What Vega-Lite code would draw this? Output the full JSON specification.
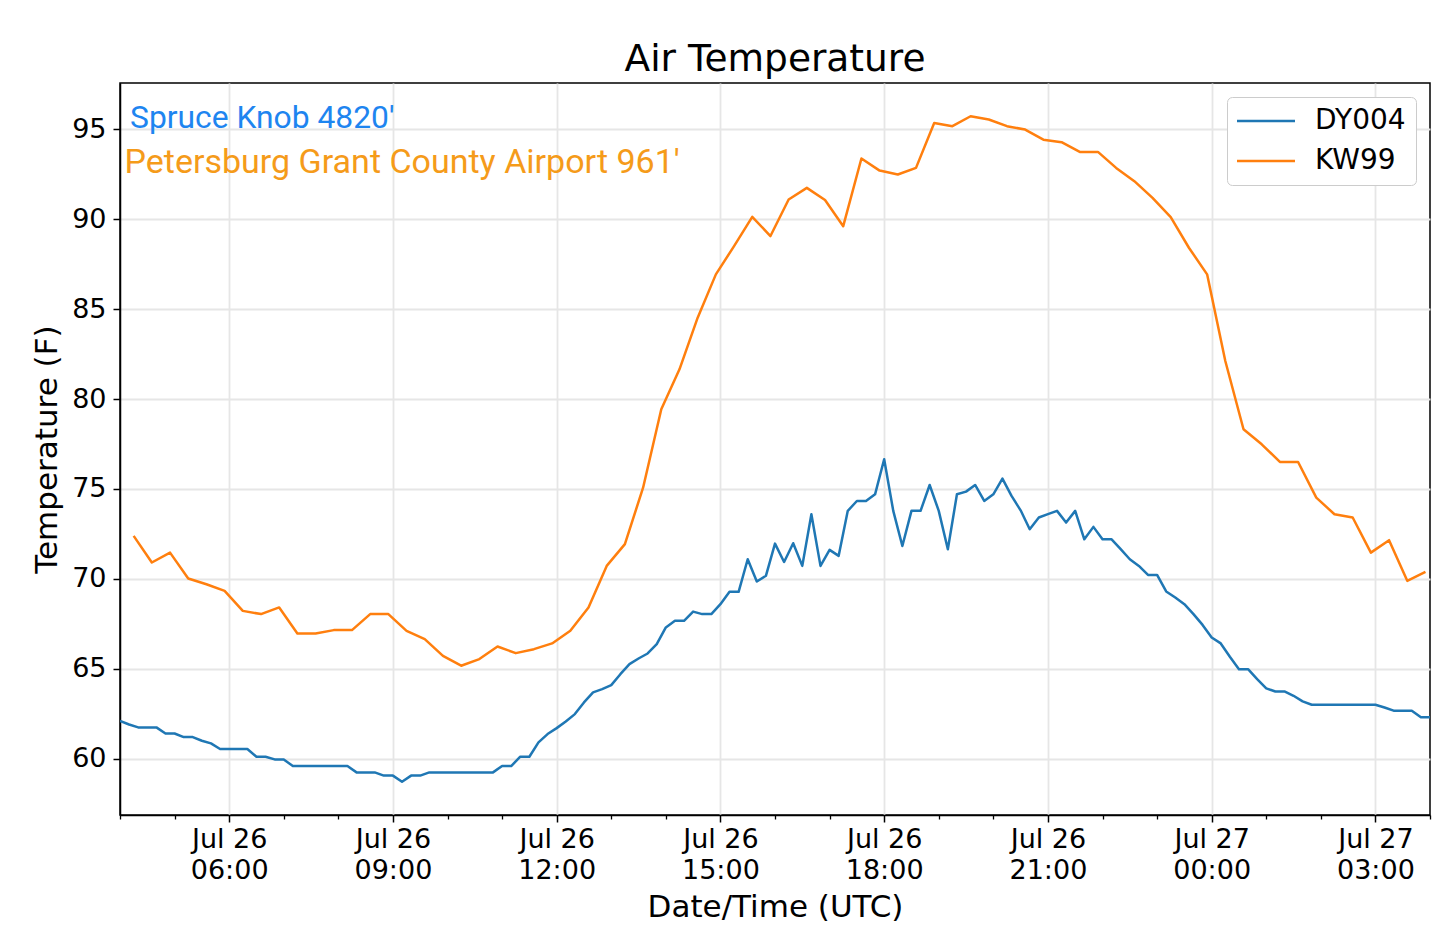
{
"$schema": "https://vega.github.io/schema/vega-lite/v6.json",
"width": 1310,
"height": 732,
"autosize": {"type": "none"},
"padding": {"left": 120, "top": 83, "right": 10, "bottom": 136},
"background": "white",
"title": {"text": "Air Temperature", "font": "DejaVu Sans", "fontSize": 37.5, "fontWeight": "normal", "color": "#000000", "anchor": "middle", "baseline": "alphabetic", "offset": -25},
"config": {"view": {"stroke": "#000000", "strokeWidth": 1.5}, "font": "DejaVu Sans",
"axisY": {"labelFont": "DejaVu Sans", "labelFontSize": 27, "labelColor": "#000000", "labelPadding": 7,
"tickSize": 7, "tickWidth": 1.5, "tickColor": "#000000",
"domainColor": "#000000", "domainWidth": 1.5,
"grid": true, "gridColor": "#e6e6e6", "gridWidth": 1.8,
"titleFont": "DejaVu Sans", "titleFontSize": 31, "titleFontWeight": "normal", "titleColor": "#000000", "titlePadding": 8}},
"datasets": {
"notes": [
{"station": "DY004", "label": "Spruce Knob 4820'", "time": "2019-07-26T04:11:00Z", "temp": 95.07},
{"station": "KW99", "label": "Petersburg Grant County Airport 961'", "time": "2019-07-26T04:05:00Z", "temp": 92.54}
],
"obs": [
{"station":"DY004","time":"2019-07-26T04:00:00Z","temp":62.1},
{"station":"DY004","time":"2019-07-26T04:10:00Z","temp":61.9},
{"station":"DY004","time":"2019-07-26T04:20:00Z","temp":61.74},
{"station":"DY004","time":"2019-07-26T04:30:00Z","temp":61.74},
{"station":"DY004","time":"2019-07-26T04:40:00Z","temp":61.74},
{"station":"DY004","time":"2019-07-26T04:50:00Z","temp":61.4},
{"station":"DY004","time":"2019-07-26T05:00:00Z","temp":61.4},
{"station":"DY004","time":"2019-07-26T05:10:00Z","temp":61.2},
{"station":"DY004","time":"2019-07-26T05:20:00Z","temp":61.2},
{"station":"DY004","time":"2019-07-26T05:30:00Z","temp":61.0},
{"station":"DY004","time":"2019-07-26T05:40:00Z","temp":60.85},
{"station":"DY004","time":"2019-07-26T05:50:00Z","temp":60.54},
{"station":"DY004","time":"2019-07-26T06:00:00Z","temp":60.54},
{"station":"DY004","time":"2019-07-26T06:10:00Z","temp":60.54},
{"station":"DY004","time":"2019-07-26T06:20:00Z","temp":60.54},
{"station":"DY004","time":"2019-07-26T06:30:00Z","temp":60.11},
{"station":"DY004","time":"2019-07-26T06:40:00Z","temp":60.11},
{"station":"DY004","time":"2019-07-26T06:50:00Z","temp":59.96},
{"station":"DY004","time":"2019-07-26T07:00:00Z","temp":59.96},
{"station":"DY004","time":"2019-07-26T07:10:00Z","temp":59.59},
{"station":"DY004","time":"2019-07-26T07:20:00Z","temp":59.59},
{"station":"DY004","time":"2019-07-26T07:30:00Z","temp":59.59},
{"station":"DY004","time":"2019-07-26T07:40:00Z","temp":59.59},
{"station":"DY004","time":"2019-07-26T07:50:00Z","temp":59.59},
{"station":"DY004","time":"2019-07-26T08:00:00Z","temp":59.59},
{"station":"DY004","time":"2019-07-26T08:10:00Z","temp":59.59},
{"station":"DY004","time":"2019-07-26T08:20:00Z","temp":59.24},
{"station":"DY004","time":"2019-07-26T08:30:00Z","temp":59.24},
{"station":"DY004","time":"2019-07-26T08:40:00Z","temp":59.24},
{"station":"DY004","time":"2019-07-26T08:50:00Z","temp":59.06},
{"station":"DY004","time":"2019-07-26T09:00:00Z","temp":59.06},
{"station":"DY004","time":"2019-07-26T09:10:00Z","temp":58.72},
{"station":"DY004","time":"2019-07-26T09:20:00Z","temp":59.06},
{"station":"DY004","time":"2019-07-26T09:30:00Z","temp":59.06},
{"station":"DY004","time":"2019-07-26T09:40:00Z","temp":59.24},
{"station":"DY004","time":"2019-07-26T09:50:00Z","temp":59.24},
{"station":"DY004","time":"2019-07-26T10:00:00Z","temp":59.24},
{"station":"DY004","time":"2019-07-26T10:10:00Z","temp":59.24},
{"station":"DY004","time":"2019-07-26T10:20:00Z","temp":59.24},
{"station":"DY004","time":"2019-07-26T10:30:00Z","temp":59.24},
{"station":"DY004","time":"2019-07-26T10:40:00Z","temp":59.24},
{"station":"DY004","time":"2019-07-26T10:50:00Z","temp":59.24},
{"station":"DY004","time":"2019-07-26T11:00:00Z","temp":59.59},
{"station":"DY004","time":"2019-07-26T11:10:00Z","temp":59.59},
{"station":"DY004","time":"2019-07-26T11:20:00Z","temp":60.11},
{"station":"DY004","time":"2019-07-26T11:30:00Z","temp":60.11},
{"station":"DY004","time":"2019-07-26T11:40:00Z","temp":60.91},
{"station":"DY004","time":"2019-07-26T11:50:00Z","temp":61.37},
{"station":"DY004","time":"2019-07-26T12:00:00Z","temp":61.7},
{"station":"DY004","time":"2019-07-26T12:10:00Z","temp":62.07},
{"station":"DY004","time":"2019-07-26T12:20:00Z","temp":62.48},
{"station":"DY004","time":"2019-07-26T12:30:00Z","temp":63.13},
{"station":"DY004","time":"2019-07-26T12:40:00Z","temp":63.69},
{"station":"DY004","time":"2019-07-26T12:50:00Z","temp":63.87},
{"station":"DY004","time":"2019-07-26T13:00:00Z","temp":64.09},
{"station":"DY004","time":"2019-07-26T13:10:00Z","temp":64.7},
{"station":"DY004","time":"2019-07-26T13:20:00Z","temp":65.26},
{"station":"DY004","time":"2019-07-26T13:30:00Z","temp":65.57},
{"station":"DY004","time":"2019-07-26T13:40:00Z","temp":65.85},
{"station":"DY004","time":"2019-07-26T13:50:00Z","temp":66.37},
{"station":"DY004","time":"2019-07-26T14:00:00Z","temp":67.3},
{"station":"DY004","time":"2019-07-26T14:10:00Z","temp":67.67},
{"station":"DY004","time":"2019-07-26T14:20:00Z","temp":67.67},
{"station":"DY004","time":"2019-07-26T14:30:00Z","temp":68.18},
{"station":"DY004","time":"2019-07-26T14:40:00Z","temp":68.04},
{"station":"DY004","time":"2019-07-26T14:50:00Z","temp":68.04},
{"station":"DY004","time":"2019-07-26T15:00:00Z","temp":68.59},
{"station":"DY004","time":"2019-07-26T15:10:00Z","temp":69.28},
{"station":"DY004","time":"2019-07-26T15:20:00Z","temp":69.28},
{"station":"DY004","time":"2019-07-26T15:30:00Z","temp":71.09},
{"station":"DY004","time":"2019-07-26T15:40:00Z","temp":69.85},
{"station":"DY004","time":"2019-07-26T15:50:00Z","temp":70.17},
{"station":"DY004","time":"2019-07-26T16:00:00Z","temp":71.96},
{"station":"DY004","time":"2019-07-26T16:10:00Z","temp":70.94},
{"station":"DY004","time":"2019-07-26T16:20:00Z","temp":71.98},
{"station":"DY004","time":"2019-07-26T16:30:00Z","temp":70.72},
{"station":"DY004","time":"2019-07-26T16:40:00Z","temp":73.59},
{"station":"DY004","time":"2019-07-26T16:50:00Z","temp":70.72},
{"station":"DY004","time":"2019-07-26T17:00:00Z","temp":71.61},
{"station":"DY004","time":"2019-07-26T17:10:00Z","temp":71.28},
{"station":"DY004","time":"2019-07-26T17:20:00Z","temp":73.78},
{"station":"DY004","time":"2019-07-26T17:30:00Z","temp":74.33},
{"station":"DY004","time":"2019-07-26T17:40:00Z","temp":74.33},
{"station":"DY004","time":"2019-07-26T17:50:00Z","temp":74.7},
{"station":"DY004","time":"2019-07-26T18:00:00Z","temp":76.65},
{"station":"DY004","time":"2019-07-26T18:10:00Z","temp":73.78},
{"station":"DY004","time":"2019-07-26T18:20:00Z","temp":71.83},
{"station":"DY004","time":"2019-07-26T18:30:00Z","temp":73.78},
{"station":"DY004","time":"2019-07-26T18:40:00Z","temp":73.78},
{"station":"DY004","time":"2019-07-26T18:50:00Z","temp":75.22},
{"station":"DY004","time":"2019-07-26T19:00:00Z","temp":73.78},
{"station":"DY004","time":"2019-07-26T19:10:00Z","temp":71.65},
{"station":"DY004","time":"2019-07-26T19:20:00Z","temp":74.7},
{"station":"DY004","time":"2019-07-26T19:30:00Z","temp":74.85},
{"station":"DY004","time":"2019-07-26T19:40:00Z","temp":75.22},
{"station":"DY004","time":"2019-07-26T19:50:00Z","temp":74.33},
{"station":"DY004","time":"2019-07-26T20:00:00Z","temp":74.7},
{"station":"DY004","time":"2019-07-26T20:10:00Z","temp":75.57},
{"station":"DY004","time":"2019-07-26T20:20:00Z","temp":74.61},
{"station":"DY004","time":"2019-07-26T20:30:00Z","temp":73.81},
{"station":"DY004","time":"2019-07-26T20:40:00Z","temp":72.76},
{"station":"DY004","time":"2019-07-26T20:50:00Z","temp":73.41},
{"station":"DY004","time":"2019-07-26T21:00:00Z","temp":73.6},
{"station":"DY004","time":"2019-07-26T21:10:00Z","temp":73.78},
{"station":"DY004","time":"2019-07-26T21:20:00Z","temp":73.13},
{"station":"DY004","time":"2019-07-26T21:30:00Z","temp":73.78},
{"station":"DY004","time":"2019-07-26T21:40:00Z","temp":72.2},
{"station":"DY004","time":"2019-07-26T21:50:00Z","temp":72.89},
{"station":"DY004","time":"2019-07-26T22:00:00Z","temp":72.2},
{"station":"DY004","time":"2019-07-26T22:10:00Z","temp":72.2},
{"station":"DY004","time":"2019-07-26T22:20:00Z","temp":71.65},
{"station":"DY004","time":"2019-07-26T22:30:00Z","temp":71.09},
{"station":"DY004","time":"2019-07-26T22:40:00Z","temp":70.72},
{"station":"DY004","time":"2019-07-26T22:50:00Z","temp":70.22},
{"station":"DY004","time":"2019-07-26T23:00:00Z","temp":70.22},
{"station":"DY004","time":"2019-07-26T23:10:00Z","temp":69.3},
{"station":"DY004","time":"2019-07-26T23:20:00Z","temp":68.96},
{"station":"DY004","time":"2019-07-26T23:30:00Z","temp":68.59},
{"station":"DY004","time":"2019-07-26T23:40:00Z","temp":68.04},
{"station":"DY004","time":"2019-07-26T23:50:00Z","temp":67.44},
{"station":"DY004","time":"2019-07-27T00:00:00Z","temp":66.74},
{"station":"DY004","time":"2019-07-27T00:10:00Z","temp":66.41},
{"station":"DY004","time":"2019-07-27T00:20:00Z","temp":65.67},
{"station":"DY004","time":"2019-07-27T00:30:00Z","temp":64.98},
{"station":"DY004","time":"2019-07-27T00:40:00Z","temp":64.98},
{"station":"DY004","time":"2019-07-27T00:50:00Z","temp":64.43},
{"station":"DY004","time":"2019-07-27T01:00:00Z","temp":63.91},
{"station":"DY004","time":"2019-07-27T01:10:00Z","temp":63.74},
{"station":"DY004","time":"2019-07-27T01:20:00Z","temp":63.74},
{"station":"DY004","time":"2019-07-27T01:30:00Z","temp":63.5},
{"station":"DY004","time":"2019-07-27T01:40:00Z","temp":63.19},
{"station":"DY004","time":"2019-07-27T01:50:00Z","temp":63.0},
{"station":"DY004","time":"2019-07-27T02:00:00Z","temp":63.0},
{"station":"DY004","time":"2019-07-27T02:10:00Z","temp":63.0},
{"station":"DY004","time":"2019-07-27T02:20:00Z","temp":63.0},
{"station":"DY004","time":"2019-07-27T02:30:00Z","temp":63.0},
{"station":"DY004","time":"2019-07-27T02:40:00Z","temp":63.0},
{"station":"DY004","time":"2019-07-27T02:50:00Z","temp":63.0},
{"station":"DY004","time":"2019-07-27T03:00:00Z","temp":63.0},
{"station":"DY004","time":"2019-07-27T03:10:00Z","temp":62.85},
{"station":"DY004","time":"2019-07-27T03:20:00Z","temp":62.67},
{"station":"DY004","time":"2019-07-27T03:30:00Z","temp":62.67},
{"station":"DY004","time":"2019-07-27T03:40:00Z","temp":62.67},
{"station":"DY004","time":"2019-07-27T03:50:00Z","temp":62.3},
{"station":"DY004","time":"2019-07-27T04:00:00Z","temp":62.3},
{"station":"KW99","time":"2019-07-26T04:15:00Z","temp":72.39},
{"station":"KW99","time":"2019-07-26T04:35:00Z","temp":70.91},
{"station":"KW99","time":"2019-07-26T04:55:00Z","temp":71.46},
{"station":"KW99","time":"2019-07-26T05:15:00Z","temp":70.02},
{"station":"KW99","time":"2019-07-26T05:35:00Z","temp":69.7},
{"station":"KW99","time":"2019-07-26T05:55:00Z","temp":69.33},
{"station":"KW99","time":"2019-07-26T06:15:00Z","temp":68.22},
{"station":"KW99","time":"2019-07-26T06:35:00Z","temp":68.04},
{"station":"KW99","time":"2019-07-26T06:55:00Z","temp":68.41},
{"station":"KW99","time":"2019-07-26T07:15:00Z","temp":66.96},
{"station":"KW99","time":"2019-07-26T07:35:00Z","temp":66.96},
{"station":"KW99","time":"2019-07-26T07:55:00Z","temp":67.15},
{"station":"KW99","time":"2019-07-26T08:15:00Z","temp":67.15},
{"station":"KW99","time":"2019-07-26T08:35:00Z","temp":68.04},
{"station":"KW99","time":"2019-07-26T08:55:00Z","temp":68.04},
{"station":"KW99","time":"2019-07-26T09:15:00Z","temp":67.11},
{"station":"KW99","time":"2019-07-26T09:35:00Z","temp":66.65},
{"station":"KW99","time":"2019-07-26T09:55:00Z","temp":65.72},
{"station":"KW99","time":"2019-07-26T10:15:00Z","temp":65.17},
{"station":"KW99","time":"2019-07-26T10:35:00Z","temp":65.54},
{"station":"KW99","time":"2019-07-26T10:55:00Z","temp":66.24},
{"station":"KW99","time":"2019-07-26T11:15:00Z","temp":65.87},
{"station":"KW99","time":"2019-07-26T11:35:00Z","temp":66.09},
{"station":"KW99","time":"2019-07-26T11:55:00Z","temp":66.41},
{"station":"KW99","time":"2019-07-26T12:15:00Z","temp":67.11},
{"station":"KW99","time":"2019-07-26T12:35:00Z","temp":68.41},
{"station":"KW99","time":"2019-07-26T12:55:00Z","temp":70.72},
{"station":"KW99","time":"2019-07-26T13:15:00Z","temp":71.93},
{"station":"KW99","time":"2019-07-26T13:35:00Z","temp":75.07},
{"station":"KW99","time":"2019-07-26T13:55:00Z","temp":79.43},
{"station":"KW99","time":"2019-07-26T14:15:00Z","temp":81.65},
{"station":"KW99","time":"2019-07-26T14:35:00Z","temp":84.52},
{"station":"KW99","time":"2019-07-26T14:55:00Z","temp":86.93},
{"station":"KW99","time":"2019-07-26T15:15:00Z","temp":88.5},
{"station":"KW99","time":"2019-07-26T15:35:00Z","temp":90.13},
{"station":"KW99","time":"2019-07-26T15:55:00Z","temp":89.06},
{"station":"KW99","time":"2019-07-26T16:15:00Z","temp":91.09},
{"station":"KW99","time":"2019-07-26T16:35:00Z","temp":91.74},
{"station":"KW99","time":"2019-07-26T16:55:00Z","temp":91.06},
{"station":"KW99","time":"2019-07-26T17:15:00Z","temp":89.61},
{"station":"KW99","time":"2019-07-26T17:35:00Z","temp":93.37},
{"station":"KW99","time":"2019-07-26T17:55:00Z","temp":92.7},
{"station":"KW99","time":"2019-07-26T18:15:00Z","temp":92.48},
{"station":"KW99","time":"2019-07-26T18:35:00Z","temp":92.85},
{"station":"KW99","time":"2019-07-26T18:55:00Z","temp":95.35},
{"station":"KW99","time":"2019-07-26T19:15:00Z","temp":95.17},
{"station":"KW99","time":"2019-07-26T19:35:00Z","temp":95.72},
{"station":"KW99","time":"2019-07-26T19:55:00Z","temp":95.54},
{"station":"KW99","time":"2019-07-26T20:15:00Z","temp":95.17},
{"station":"KW99","time":"2019-07-26T20:35:00Z","temp":94.98},
{"station":"KW99","time":"2019-07-26T20:55:00Z","temp":94.42},
{"station":"KW99","time":"2019-07-26T21:15:00Z","temp":94.28},
{"station":"KW99","time":"2019-07-26T21:35:00Z","temp":93.74},
{"station":"KW99","time":"2019-07-26T21:55:00Z","temp":93.74},
{"station":"KW99","time":"2019-07-26T22:15:00Z","temp":92.85},
{"station":"KW99","time":"2019-07-26T22:35:00Z","temp":92.11},
{"station":"KW99","time":"2019-07-26T22:55:00Z","temp":91.18},
{"station":"KW99","time":"2019-07-26T23:15:00Z","temp":90.11},
{"station":"KW99","time":"2019-07-26T23:35:00Z","temp":88.41},
{"station":"KW99","time":"2019-07-26T23:55:00Z","temp":86.93},
{"station":"KW99","time":"2019-07-27T00:15:00Z","temp":82.11},
{"station":"KW99","time":"2019-07-27T00:35:00Z","temp":78.32},
{"station":"KW99","time":"2019-07-27T00:55:00Z","temp":77.48},
{"station":"KW99","time":"2019-07-27T01:15:00Z","temp":76.5},
{"station":"KW99","time":"2019-07-27T01:35:00Z","temp":76.5},
{"station":"KW99","time":"2019-07-27T01:55:00Z","temp":74.52},
{"station":"KW99","time":"2019-07-27T02:15:00Z","temp":73.59},
{"station":"KW99","time":"2019-07-27T02:35:00Z","temp":73.41},
{"station":"KW99","time":"2019-07-27T02:55:00Z","temp":71.46},
{"station":"KW99","time":"2019-07-27T03:15:00Z","temp":72.15},
{"station":"KW99","time":"2019-07-27T03:35:00Z","temp":69.89},
{"station":"KW99","time":"2019-07-27T03:55:00Z","temp":70.39}
]
},
"resolve": {"axis": {"x": "independent"}},
"layer": [
{
"data": {"name": "obs"},
"mark": {"type": "line", "strokeWidth": 2.5, "strokeJoin": "round", "clip": true},
"encoding": {
"x": {"field": "time", "type": "temporal",
"scale": {"type": "utc", "domain": [{"year": 2019, "month": 7, "date": 26, "hours": 4, "utc": true}, {"year": 2019, "month": 7, "date": 27, "hours": 4, "utc": true}]},
"axis": {"orient": "bottom",
"values": [
{"year": 2019, "month": 7, "date": 26, "hours": 6, "utc": true},
{"year": 2019, "month": 7, "date": 26, "hours": 9, "utc": true},
{"year": 2019, "month": 7, "date": 26, "hours": 12, "utc": true},
{"year": 2019, "month": 7, "date": 26, "hours": 15, "utc": true},
{"year": 2019, "month": 7, "date": 26, "hours": 18, "utc": true},
{"year": 2019, "month": 7, "date": 26, "hours": 21, "utc": true},
{"year": 2019, "month": 7, "date": 27, "hours": 0, "utc": true},
{"year": 2019, "month": 7, "date": 27, "hours": 3, "utc": true}
],
"labelExpr": "[utcFormat(datum.value, '%b %d'), utcFormat(datum.value, '%H:%M')]",
"labelFont": "DejaVu Sans", "labelFontSize": 27, "labelColor": "#000000", "labelLineHeight": 31,
"labelPadding": 4, "labelFlush": false, "labelOverlap": false, "labelAlign": "center",
"tickSize": 7, "tickWidth": 1.5, "tickColor": "#000000",
"domainColor": "#000000", "domainWidth": 1.5,
"grid": true, "gridColor": "#e6e6e6", "gridWidth": 1.8,
"title": "Date/Time (UTC)", "titleFont": "DejaVu Sans", "titleFontSize": 31, "titleFontWeight": "normal", "titleColor": "#000000", "titlePadding": 9}
},
"y": {"field": "temp", "type": "quantitative",
"scale": {"domain": [56.87, 97.57], "nice": false, "zero": false},
"axis": {"values": [60, 65, 70, 75, 80, 85, 90, 95], "title": "Temperature (F)"}
},
"color": {"field": "station", "type": "nominal",
"scale": {"domain": ["DY004", "KW99"], "range": ["#1f77b4", "#ff7f0e"]},
"legend": {"orient": "none", "legendX": 1107, "legendY": 14, "title": null,
"symbolType": "M-1.4,0H4.4", "symbolSize": 400, "symbolStrokeWidth": 2.5,
"labelFont": "DejaVu Sans", "labelFontSize": 28, "labelColor": "#000000", "labelOffset": 50,
"padding": 10, "rowPadding": 12,
"strokeColor": "#cccccc", "fillColor": "#ffffff", "cornerRadius": 5}
}
}
},
{
"data": {"name": "notes"},
"transform": [{"filter": "datum.station == 'DY004'"}],
"mark": {"type": "text", "align": "left", "baseline": "alphabetic", "font": "Roboto", "fontSize": 31.8, "color": "#1e85f0"},
"encoding": {
"x": {"field": "time", "type": "temporal",
"scale": {"type": "utc", "domain": [{"year": 2019, "month": 7, "date": 26, "hours": 4, "utc": true}, {"year": 2019, "month": 7, "date": 27, "hours": 4, "utc": true}]},
"axis": {"orient": "bottom",
"values": [
{"year": 2019, "month": 7, "date": 26, "hours": 4, "utc": true},
{"year": 2019, "month": 7, "date": 26, "hours": 5, "utc": true},
{"year": 2019, "month": 7, "date": 26, "hours": 7, "utc": true},
{"year": 2019, "month": 7, "date": 26, "hours": 8, "utc": true},
{"year": 2019, "month": 7, "date": 26, "hours": 10, "utc": true},
{"year": 2019, "month": 7, "date": 26, "hours": 11, "utc": true},
{"year": 2019, "month": 7, "date": 26, "hours": 13, "utc": true},
{"year": 2019, "month": 7, "date": 26, "hours": 14, "utc": true},
{"year": 2019, "month": 7, "date": 26, "hours": 16, "utc": true},
{"year": 2019, "month": 7, "date": 26, "hours": 17, "utc": true},
{"year": 2019, "month": 7, "date": 26, "hours": 19, "utc": true},
{"year": 2019, "month": 7, "date": 26, "hours": 20, "utc": true},
{"year": 2019, "month": 7, "date": 26, "hours": 22, "utc": true},
{"year": 2019, "month": 7, "date": 26, "hours": 23, "utc": true},
{"year": 2019, "month": 7, "date": 27, "hours": 1, "utc": true},
{"year": 2019, "month": 7, "date": 27, "hours": 2, "utc": true},
{"year": 2019, "month": 7, "date": 27, "hours": 4, "utc": true}
],
"labels": false, "grid": false, "domain": false, "title": null,
"tickSize": 4, "tickWidth": 1.3, "tickColor": "#000000"}
},
"y": {"field": "temp", "type": "quantitative", "scale": {"domain": [56.87, 97.57], "nice": false, "zero": false},
"axis": {"values": [60, 65, 70, 75, 80, 85, 90, 95], "title": "Temperature (F)"}},
"text": {"field": "label", "type": "nominal"}
}
},
{
"data": {"name": "notes"},
"transform": [{"filter": "datum.station == 'KW99'"}],
"mark": {"type": "text", "align": "left", "baseline": "alphabetic", "font": "Roboto", "fontSize": 34, "color": "#f59b1a"},
"encoding": {
"x": {"field": "time", "type": "temporal",
"scale": {"type": "utc", "domain": [{"year": 2019, "month": 7, "date": 26, "hours": 4, "utc": true}, {"year": 2019, "month": 7, "date": 27, "hours": 4, "utc": true}]},
"axis": null},
"y": {"field": "temp", "type": "quantitative", "scale": {"domain": [56.87, 97.57], "nice": false, "zero": false},
"axis": {"values": [60, 65, 70, 75, 80, 85, 90, 95], "title": "Temperature (F)"}},
"text": {"field": "label", "type": "nominal"}
}
}
]
}
